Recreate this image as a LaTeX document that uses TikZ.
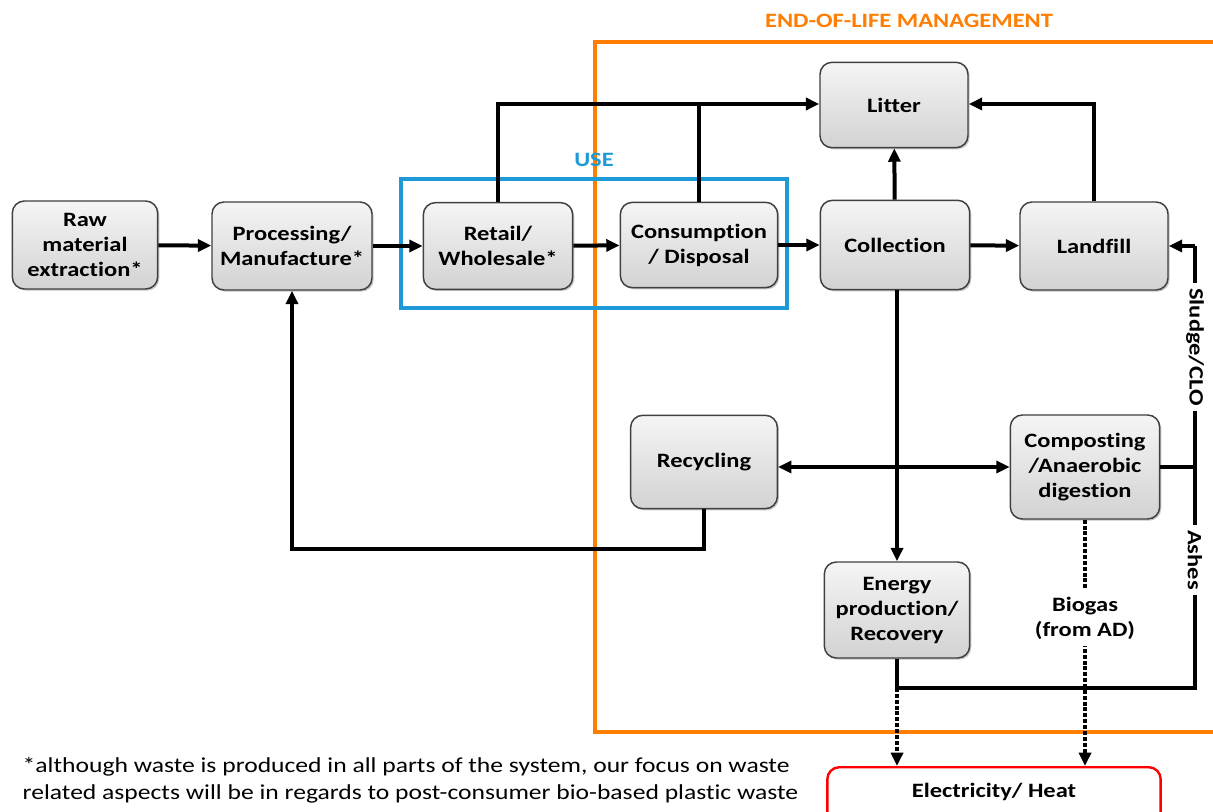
\documentclass[tikz,border=0pt]{standalone}
\usepackage{fontspec}
\setmainfont{Carlito}[FakeStretch=1.2, Ligatures=CommonOff]
\usetikzlibrary{arrows.meta,shadows}
\definecolor{eolorange}{RGB}{255,125,0}
\definecolor{useblue}{RGB}{30,155,215}
\begin{document}
\begin{tikzpicture}[x=0.75pt,y=-0.75pt,
  lbl/.style={font=\bfseries\fontsize{15.3}{18.75}\selectfont},
  box/.style={lbl, draw=black!75, line width=1.1pt, rounded corners=9pt,
    top color=gray!8, bottom color=gray!35, align=center, inner sep=0pt,
    drop shadow={shadow xshift=1.2pt, shadow yshift=-1.2pt, opacity=0.45}},
  conn/.style={line width=3pt, -{Triangle[length=10pt,width=9pt]}},
  plain/.style={line width=3pt},
  dotline/.style={line width=3.2pt, dash pattern=on 3pt off 1.4pt, -{Triangle[length=10pt,width=9pt]}},
]
\useasboundingbox (0,0) rectangle (1213,812);
\clip (0,0) rectangle (1213,812);
\fill[white] (0,0) rectangle (1213,812);

% frames
\draw[eolorange, line width=2.4pt] (595,42) rectangle (1240,732);
\node[lbl, text=eolorange] (eoltitle) at (909,21) {END-OF-LIFE MANAGEMENT};
\draw[useblue, line width=2.4pt] (401,179) rectangle (787,308);
\node[lbl, text=useblue] (usetitle) at (594,160) {USE};

% nodes
\node[box, minimum width=109pt, minimum height=66pt] (raw) at (85,245) {Raw\\material\\extraction*};
\node[box, minimum width=120pt, minimum height=66pt] (proc) at (292,246) {Processing/\\Manufacture*};
\node[box, minimum width=112pt, minimum height=65pt] (retail) at (498,246) {Retail/\\Wholesale*};
\node[box, minimum width=118pt, minimum height=64pt] (cons) at (699,245) {Consumption\\/ Disposal};
\node[box, minimum width=112pt, minimum height=67pt] (coll) at (895,245) {Collection};
\node[box, minimum width=111pt, minimum height=66pt] (land) at (1094,246) {Landfill};
\node[box, minimum width=111pt, minimum height=64pt] (litter) at (894,105) {Litter};
\node[box, minimum width=110pt, minimum height=70pt] (recyc) at (704,462) {Recycling};
\node[box, minimum width=112pt, minimum height=78pt] (comp) at (1085,467) {Composting\\/Anaerobic\\digestion};
\node[box, minimum width=109pt, minimum height=72pt] (energy) at (897,610) {Energy\\production/\\Recovery};
\node[lbl, draw=red, line width=1.8pt, rounded corners=9pt, fill=white,
      minimum width=250pt, minimum height=48pt, anchor=north] (elec) at (994,766) {};
\node[lbl] (electxt) at (994,792) {Electricity/ Heat};

% helper coordinates
\coordinate (topL) at (498,104);
\coordinate (topC) at (699,104);
\coordinate (topR) at (1094,104);
\coordinate (rTop) at (1195,246);
\coordinate (rMid) at (1195,467);
\coordinate (rBot) at (1195,688);
\coordinate (eBot) at (897,688);
\coordinate (recB) at (704,549);
\coordinate (procB) at (292,549);

% main chain
\draw[conn] (raw) -- (proc);
\draw[conn] (proc) -- (retail);
\draw[conn] (retail) -- (cons);
\draw[conn] (cons) -- (coll);
\draw[conn] (coll) -- (land);
\draw[conn] (coll) -- (litter);

% to litter
\draw[conn] (retail.north) -- (topL) -- (litter.west |- topL);
\draw[plain] (cons.north) -- (topC);
\draw[conn] (land.north) -- (topR) -- (litter.east |- topR);

% collection to energy
\draw[conn] (coll.south -| energy.north) -- (energy.north);

% recycling <-> composting
\draw[line width=3pt, {Triangle[length=10pt,width=9pt]}-{Triangle[length=10pt,width=9pt]}] (recyc.east |- comp.west) -- (comp.west);

% recycling back to processing
\draw[conn] (recyc.south) -- (recB) -- (procB) -- (proc.south);

% right side return line
\draw[plain] (energy.south) -- (eBot) -- (rBot) -- (rTop);
\draw[conn] (rTop) -- (land.east);
\draw[plain] (comp.east) -- (rMid);
\node[lbl, fill=white, rotate=-90, inner sep=4pt] (sludge) at (1195,347) {Sludge/CLO};
\node[lbl, fill=white, rotate=-90, inner sep=4pt] (ashes) at (1195,560) {Ashes};

% dotted energy flows
\draw[dotline] (eBot) -- (eBot |- elec.north);
\draw[dotline] (comp.south) -- (comp.south |- elec.north);
\node[lbl, fill=white, align=center, inner sep=5pt] (biogas) at (1085,618) {Biogas\\(from AD)};

% footnote
\node[anchor=west, align=left, font=\fontsize{16}{20.25}\selectfont] (foot) at (18,780)
 {*although waste is produced in all parts of the system, our focus on waste\\
  related aspects will be in regards to post-consumer bio-based plastic waste};
\end{tikzpicture}
\end{document}
